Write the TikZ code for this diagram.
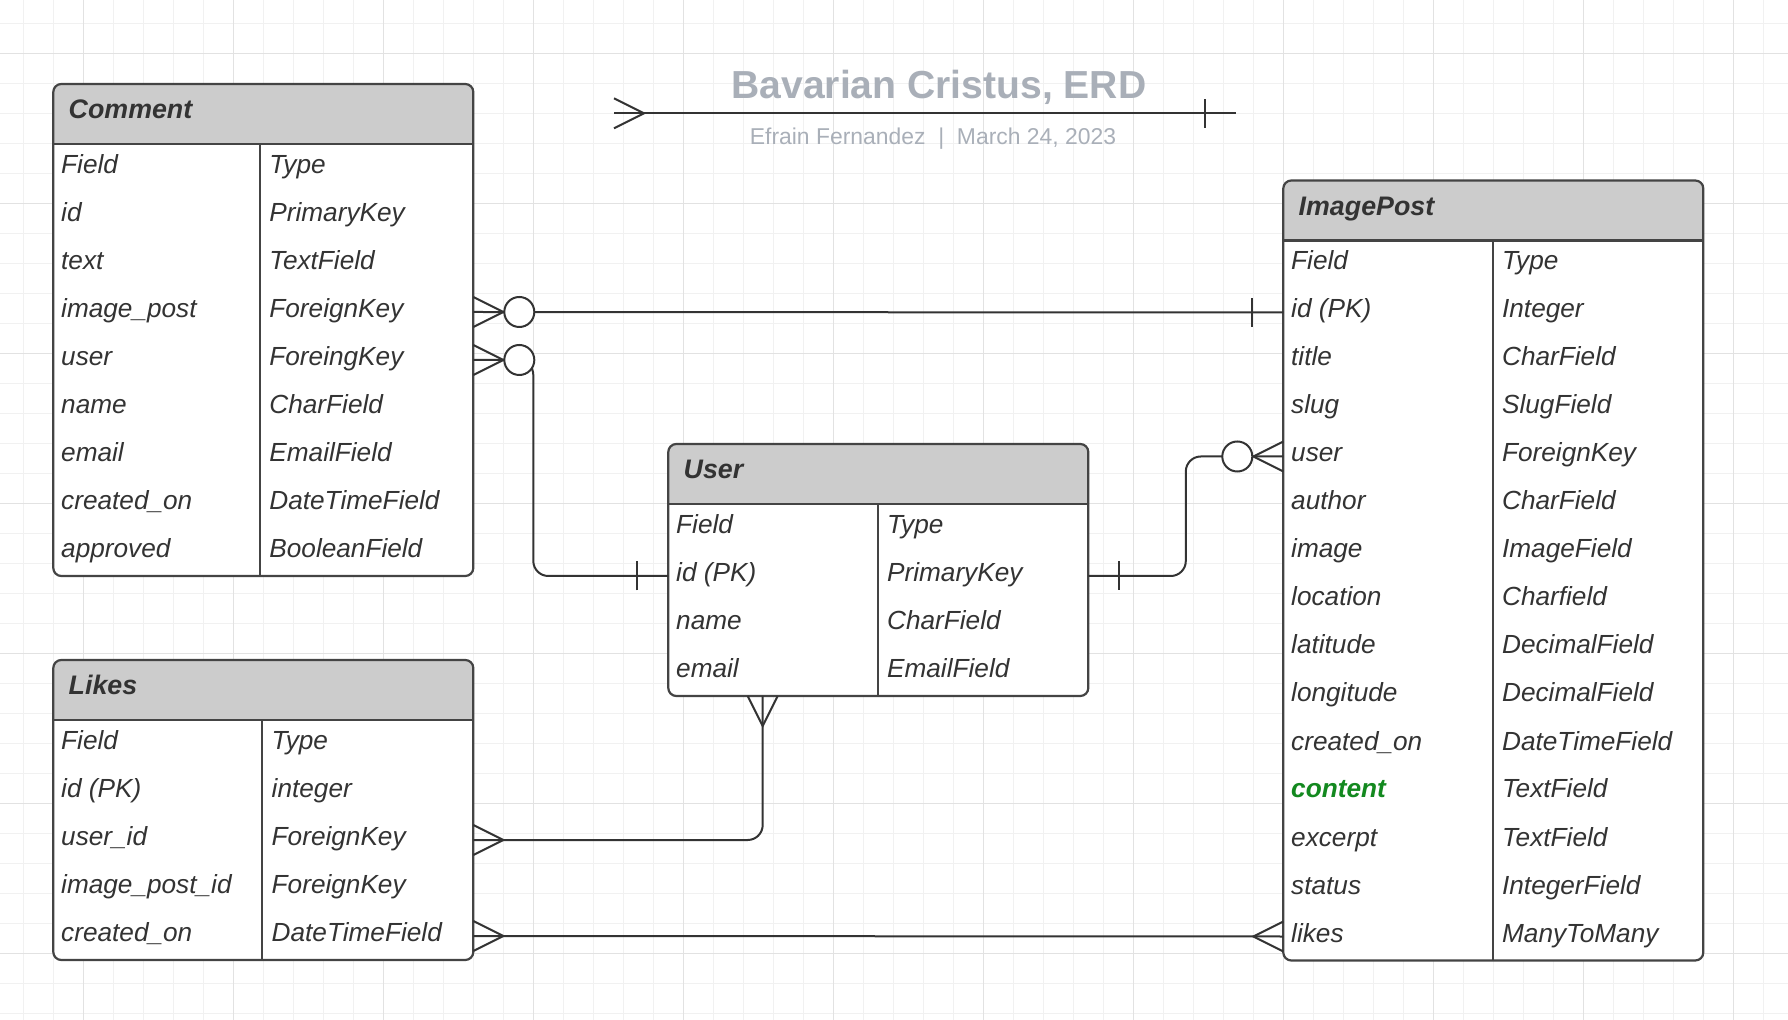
\documentclass[tikz,border=0pt]{standalone}
\usepackage{fontspec}
\setmainfont{Liberation Sans}
\definecolor{gridminor}{HTML}{F1F1F1}
\definecolor{gridmajor}{HTML}{E2E2E2}
\definecolor{headgray}{HTML}{CCCCCC}
\definecolor{edgegray}{HTML}{444444}
\definecolor{inkgray}{HTML}{333333}
\definecolor{titlegray}{HTML}{A9AFB8}
\definecolor{fieldgreen}{HTML}{13891F}
\tikzset{
  finegrid/.style={draw=gridminor, line width=0.6pt},
  coarsegrid/.style={draw=gridmajor, line width=0.6pt},
  tablebox/.style={draw=edgegray, line width=1.1pt, rounded corners=4pt, minimum width=210pt, inner sep=0pt, outer sep=0pt},
  tableline/.style={draw=edgegray, line width=1.1pt},
  celltext/.style={inner sep=0pt, text=inkgray, font=\fontsize{13.1}{15}\selectfont\itshape},
  headtext/.style={inner sep=0pt, text=inkgray, font=\fontsize{13.4}{15}\selectfont\bfseries\itshape},
  relline/.style={draw=inkgray, line width=1pt},
  manyend/.pic={\draw[relline] (0,-15) -- (30,0) -- (0,15);},
  zeroend/.pic={\draw[relline, fill=white] (46,0) circle (15);},
  oneend/.pic={\draw[relline] (31,-14.5) -- (31,14.5);}
}
% #1 name, #2 title, #3 left, #4 top, #5 divider offset, #6 rows, #7 field/type list
\newcommand{\erdtable}[7]{%
  \pgfmathsetmacro{\tabhb}{#4+60}
  \pgfmathsetmacro{\tabbt}{#4+60+48*#6}
  \pgfmathsetmacro{\tabht}{(60+48*#6)/2}
  \begin{scope}
    \clip[rounded corners=4pt] (#3,#4) rectangle ({#3+420},\tabbt);
    \fill[headgray] (#3,#4) rectangle ({#3+420},\tabhb);
    \fill[white] (#3,\tabhb) rectangle ({#3+420},\tabbt);
  \end{scope}
  \node[tablebox, minimum height=\tabht pt, anchor=north west] (#1) at (#3,#4) {};
  \draw[tableline] (#3,\tabhb) -- ({#3+420},\tabhb);
  \draw[tableline] ({#3+#5},\tabhb) -- ({#3+#5},\tabbt);
  \node[headtext, anchor=base west] (#1-head) at ({#3+15},{#4+35}) {#2};
  \foreach \fld/\typ [count=\i from 0] in {#7} {
    \coordinate (#1-r\i) at (#3,{\tabhb+48*\i+24});
    \node[celltext, anchor=base west] (#1-f\i) at ({#3+7.5},{\tabhb+48*\i+29.5}) {\fld};
    \node[celltext, anchor=base west] (#1-t\i) at ({#3+#5+9},{\tabhb+48*\i+29.5}) {\typ};
  }
}

\begin{document}
\begin{tikzpicture}[x=0.5pt, y=-0.5pt]
	\useasboundingbox (0,0) rectangle (1788,1020);

	% Background grid
	\foreach \i in {0,...,59} \draw[finegrid] ({23.33+30*\i},0) -- ({23.33+30*\i},1020);
	\foreach \i in {0,...,33} \draw[finegrid] (0,{23.33+30*\i}) -- (1788,{23.33+30*\i});
	\foreach \i in {0,...,11} \draw[coarsegrid] ({83.33+150*\i},0) -- ({83.33+150*\i},1020);
	\foreach \i in {0,...,6} \draw[coarsegrid] (0,{53.33+150*\i}) -- (1788,{53.33+150*\i});

	% Title and key
	\node[inner sep=0pt, anchor=base west, text=titlegray, font=\fontsize{19.55}{22}\selectfont\bfseries] (title) at (731,98.3) {Bavarian Cristus, ERD};
	\node[inner sep=0pt, anchor=base west, text=titlegray, font=\fontsize{11.45}{14}\selectfont] (subtitle) at (749.5,144.3) {Efrain Fernandez\ \ |\ \ March 24, 2023};
	\coordinate (keyleft) at (614,113.3);
	\coordinate (keyright) at (1235.7,113.3);
	\draw[relline] (keyleft) -- (keyright);
	\pic at (keyleft) {manyend};
	\pic[rotate=180] at (keyright) {oneend};

	% Tables
	\erdtable{comment}{Comment}{53.3}{84}{206.7}{9}{Field/Type, id/PrimaryKey, text/TextField, image\_post/ForeignKey, user/ForeingKey, name/CharField, email/EmailField, created\_on/DateTimeField, approved/BooleanField}
	\erdtable{likes}{Likes}{53.3}{660}{209}{5}{Field/Type, id (PK)/integer, user\_id/ForeignKey, image\_post\_id/ForeignKey, created\_on/DateTimeField}
	\erdtable{user}{User}{668.3}{444}{209.4}{4}{Field/Type, id (PK)/PrimaryKey, name/CharField, email/EmailField}
	\erdtable{imagepost}{ImagePost}{1283.3}{180.5}{209.4}{15}{Field/Type, id (PK)/Integer, title/CharField, slug/SlugField, user/ForeignKey, author/CharField, image/ImageField, location/Charfield, latitude/DecimalField, longitude/DecimalField, created\_on/DateTimeField, {\textcolor{fieldgreen}{\bfseries content}}/TextField, excerpt/TextField, status/IntegerField, likes/ManyToMany}

	% Relations
	\draw[relline] (comment.east |- comment-r3) -- (imagepost.west |- imagepost-r1);
	\draw[relline, rounded corners=7.5pt] (comment.east |- comment-r4) -- ++(60,0) |- (user.west |- user-r1);
	\draw[relline, rounded corners=7.5pt] (user.east |- user-r1) -- ++(97.5,0) |- (imagepost.west |- imagepost-r4);
	\draw[relline, rounded corners=7.5pt] (likes.east |- likes-r2) -| ([xshift=47.2pt]user.south west);
	\draw[relline] (likes.east |- likes-r4) -- (imagepost.west |- imagepost-r14);

	% Cardinality marks
	\pic at (comment.east |- comment-r3) {manyend};
	\pic at (comment.east |- comment-r3) {zeroend};
	\pic[rotate=180] at (imagepost.west |- imagepost-r1) {oneend};

	\pic at (comment.east |- comment-r4) {manyend};
	\pic at (comment.east |- comment-r4) {zeroend};
	\pic[rotate=180] at (user.west |- user-r1) {oneend};

	\pic at (user.east |- user-r1) {oneend};
	\pic[rotate=180] at (imagepost.west |- imagepost-r4) {manyend};
	\pic[rotate=180] at (imagepost.west |- imagepost-r4) {zeroend};

	\pic at (likes.east |- likes-r2) {manyend};
	\pic[rotate=-90] at ([xshift=47.2pt]user.south west) {manyend};

	\pic at (likes.east |- likes-r4) {manyend};
	\pic[rotate=180] at (imagepost.west |- imagepost-r14) {manyend};
\end{tikzpicture}
\end{document}
